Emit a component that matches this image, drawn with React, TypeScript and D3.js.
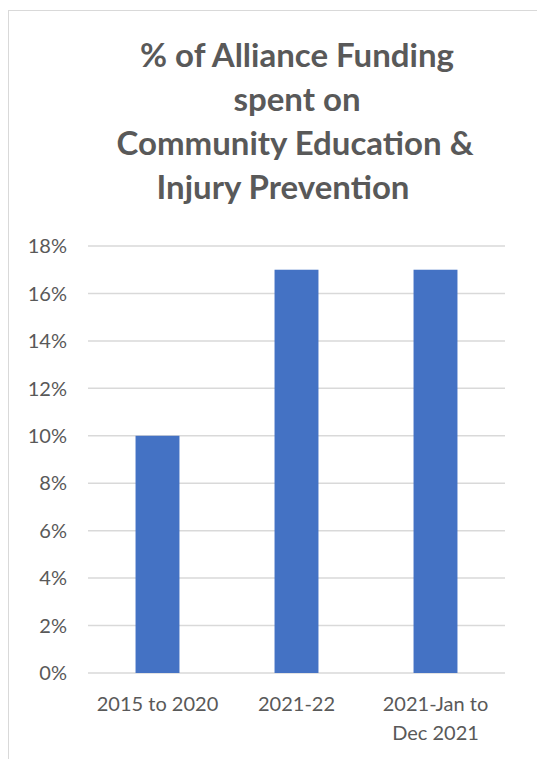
import React from "react";
import * as d3 from "d3";

const categories: string[][] = [["2015 to 2020"], ["2021-22"], ["2021-Jan to", "Dec 2021"]];
const values: number[] = [0.10, 0.17, 0.17];
const yTicks: number[] = [0, 0.02, 0.04, 0.06, 0.08, 0.10, 0.12, 0.14, 0.16, 0.18];
const titleLines: string[] = ["% of Alliance Funding", "spent on", "Community Education &", "Injury Prevention"];

const W = 537;
const H = 759;
const FONT = "Lato, 'Open Sans', sans-serif";
const TEXT = "#595959";

export default function App() {
  const plot = { left: 88, right: 505, top: 246, bottom: 673 };
  const x = d3
    .scaleBand<number>()
    .domain(categories.map((_, i) => i))
    .range([plot.left, plot.right])
    .paddingInner(0.684)
    .paddingOuter(0.342);
  const y = d3.scaleLinear().domain([0, 0.18]).range([plot.bottom, plot.top]);
  const fmt = d3.format(".0%");
  const titleX = [297, 297, 295, 283];

  return (
    <svg
      width={W}
      height={H}
      style={{ position: "absolute", left: 0, top: 0, background: "#fff" }}
      fontFamily={FONT}
    >
      <rect x={8.5} y={10.5} width={W + 10} height={H + 10} fill="#fff" stroke="#d9d9d9" strokeWidth={1} />
      {titleLines.map((t, i) => (
        <text
          key={i}
          x={titleX[i]}
          y={67 + i * 44}
          textAnchor="middle"
          fontSize={33}
          fontWeight="bold"
          fill={TEXT}
        >
          {t}
        </text>
      ))}
      {yTicks.map((t) => (
        <g key={t}>
          <line x1={plot.left} x2={plot.right} y1={y(t)} y2={y(t)} stroke="#d9d9d9" strokeWidth={1.5} />
          <text x={67} y={y(t)} dy="0.36em" textAnchor="end" fontSize={20} fill={TEXT}>
            {fmt(t)}
          </text>
        </g>
      ))}
      {values.map((v, i) => (
        <rect
          key={i}
          x={x(i)}
          y={y(v)}
          width={x.bandwidth()}
          height={y(0) - y(v)}
          fill="#4472C4"
        />
      ))}
      {categories.map((lines, i) => (
        <text
          key={i}
          x={(x(i) as number) + x.bandwidth() / 2}
          y={711}
          textAnchor="middle"
          fontSize={20}
          fill={TEXT}
        >
          {lines.map((l, j) => (
            <tspan key={j} x={(x(i) as number) + x.bandwidth() / 2} dy={j === 0 ? 0 : 29}>
              {l}
            </tspan>
          ))}
        </text>
      ))}
    </svg>
  );
}
